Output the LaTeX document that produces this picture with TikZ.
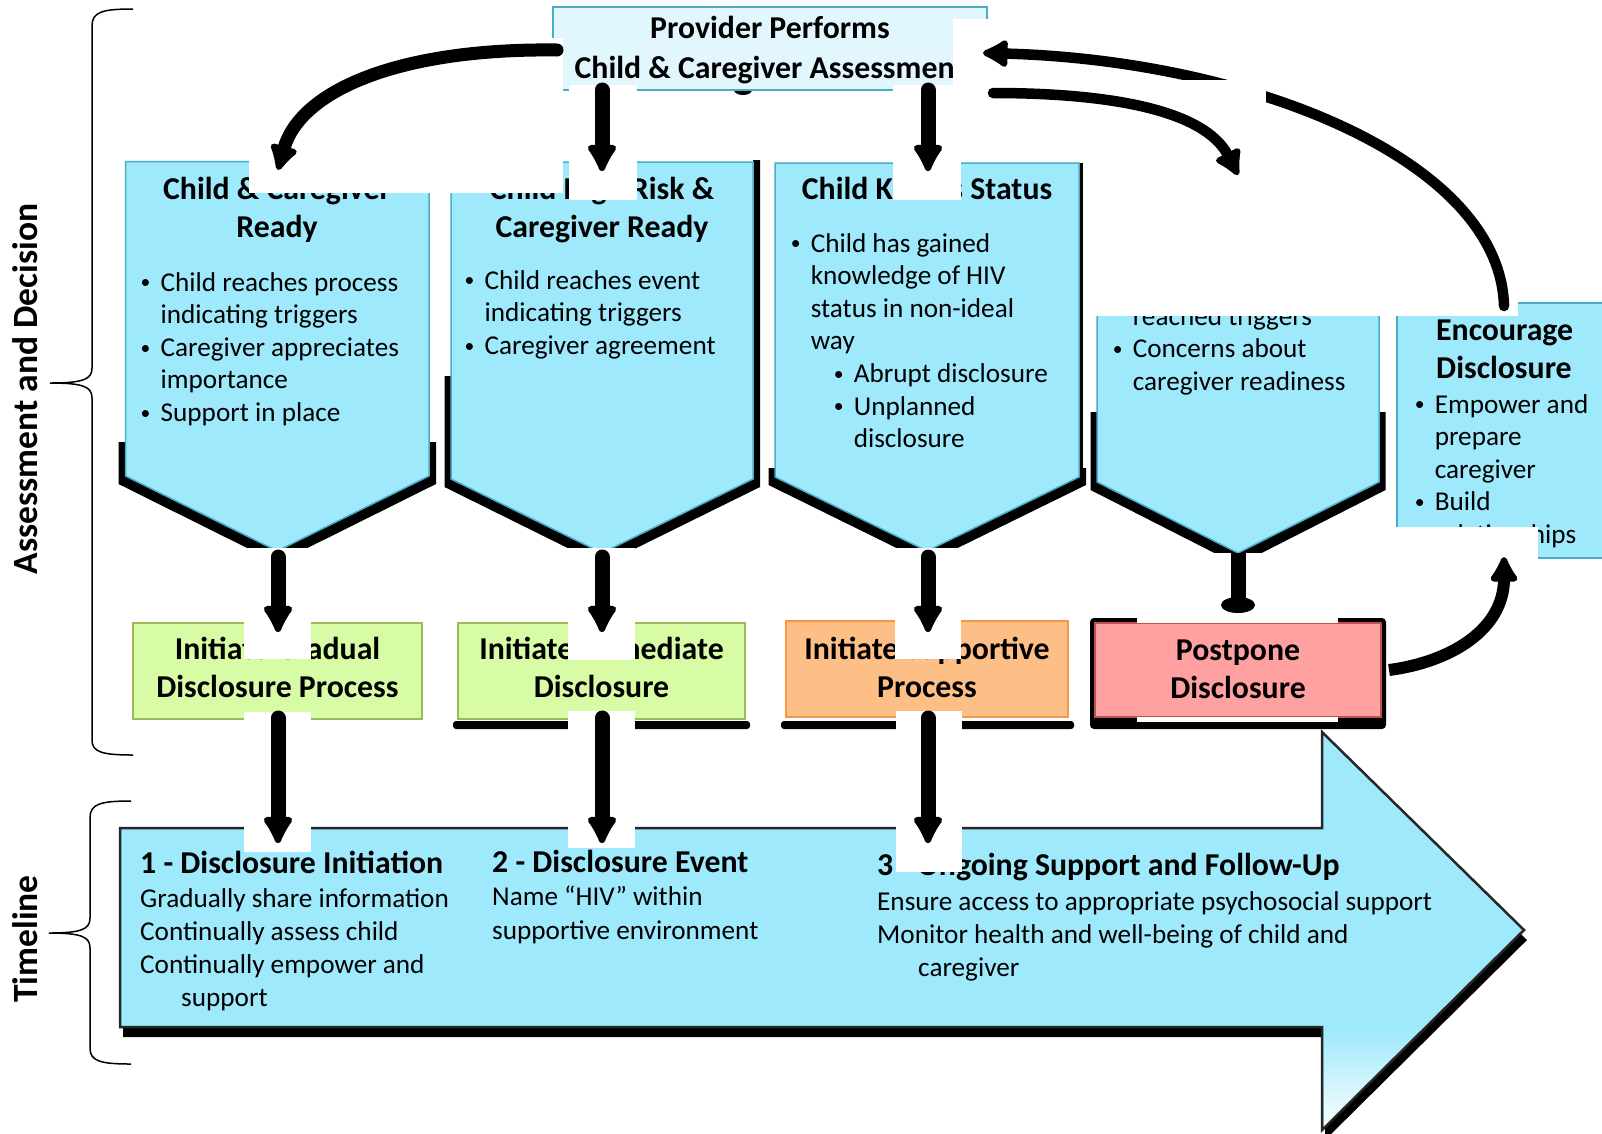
\documentclass[tikz,border=0pt]{standalone}
\usepackage{fontspec}
\usepackage{graphicx}
\setmainfont{Carlito}
\usetikzlibrary{arrows.meta}
\definecolor{cy}{HTML}{9FE9FC}
\definecolor{tealline}{HTML}{4BACC6}
\definecolor{provfill}{HTML}{E2F7FD}
\definecolor{gfill}{HTML}{D8FBA6}
\definecolor{gline}{HTML}{9BBB59}
\definecolor{ofill}{HTML}{FEBF87}
\definecolor{oline}{HTML}{F79646}
\definecolor{rfill}{HTML}{FFA1A1}
\definecolor{rline}{HTML}{C0504D}
\newcommand\ctab[1]{\begin{tabular}[t]{@{}c@{}}#1\end{tabular}}
\newcommand\ltab[1]{\begin{tabular}[t]{@{}l@{}}#1\end{tabular}}
\newcommand\bul{\makebox[22pt][l]{\hspace{2pt}\raisebox{0.08em}{\scalebox{0.72}{•}}}}
\newcommand\myind{\hspace*{22pt}}
\tikzset{
  patch/.style={fill=white, draw=none},
  arr/.style={line width=15pt, line cap=round, -{Latex[length=32pt,width=36pt,round]}},
  carr/.style={line width=11pt, line cap=round, -{Latex[length=30pt,width=34pt,round]}},
  reg/.style={font=\fontsize{27.2}{32.6}\selectfont, inner sep=0pt, anchor=base west},
  ttl/.style={font=\fontsize{31.8}{38.5}\selectfont\bfseries, inner sep=0pt, anchor=base},
  lab/.style={font=\fontsize{35.5}{40}\selectfont\bfseries, inner sep=0pt, anchor=base, rotate=90},
  chev/.style={fill=cy, draw=tealline, line width=1.5pt},
  brk/.style={line width=1.5pt},
}
\begin{document}
\begin{tikzpicture}[x=1pt,y=-1pt]
\useasboundingbox (0,0) rectangle (1602,1133);
\clip (0,0) rectangle (1602,1133);
% brackets and labels
\draw[brk] (133,9) .. controls (102,9) and (92,12) .. (92,26) -- (92,368)
  .. controls (92,379) and (84,383) .. (50,383) .. controls (84,383) and (92,387) .. (92,398)
  -- (92,740) .. controls (92,752) and (102,755) .. (133,755);
\draw[brk] (131,801) .. controls (100,801) and (90,804) .. (90,818) -- (90,918)
  .. controls (90,929) and (82,933) .. (49,933) .. controls (82,933) and (90,937) .. (90,948)
  -- (90,1048) .. controls (90,1061) and (100,1064) .. (131,1064);
\node[lab] (labA) at (37,389) {Assessment and Decision};
\node[lab] (labT) at (37,939) {Timeline};
% provider box
\fill (743,90) ellipse (9 and 5);
\filldraw[fill=provfill, draw=tealline, line width=1.5pt] (553,7) rectangle (987,90);
\node[ttl, font=\fontsize{31.8}{40}\selectfont\bfseries] (prov) at (770,38) {\ctab{Provider Performs\\Child \& Caregiver Assessment}};
% box 1
\fill (118.5,442) -- (118.5,484) -- (277.25,563) -- (436,484) -- (436,442) -- (429,442) -- (429,476) -- (125.5,476) -- (125.5,442) -- cycle;
\filldraw[chev] (125.5,161.5) -- (429,161.5) -- (429,476) -- (277.25,551) -- (125.5,476) -- cycle;
\node[ttl] (t1) at (277,199) {\ctab{Child \& Caregiver\\Ready}};
\node[reg] (l1) at (138.5,291) {\ltab{\bul Child reaches process\\ \myind indicating triggers\\ \bul Caregiver appreciates\\ \myind importance\\ \bul Support in place}};
% box 2
\fill (444.5,376) -- (444.5,487) -- (602,565) -- (760,487) -- (760,160) -- (753,160) -- (753,479) -- (451,479) -- (451,376) -- cycle;
\filldraw[chev] (451,162) -- (753,162) -- (753,479) -- (602,553) -- (451,479) -- cycle;
\node[ttl] (t2) at (602,199) {\ctab{Child High Risk \&\\Caregiver Ready}};
\node[reg] (l2) at (462.5,289) {\ltab{\bul Child reaches event\\ \myind indicating triggers\\ \bul Caregiver agreement}};
% box 4
\fill (1090.5,412) -- (1090.5,490) -- (1238,565) -- (1385.5,490) -- (1385.5,412) -- (1379,412) -- (1379,482) -- (1097,482) -- (1097,412) -- cycle;
\filldraw[chev] (1097,300) -- (1379,300) -- (1379,482) -- (1238,553) -- (1097,482) -- cycle;
\node[reg] (l4) at (1110.6,325) {\ltab{\myind reached triggers\\ \bul Concerns about\\ \myind caregiver readiness}};
% box 5 (encourage)
\filldraw[chev] (1397,303) rectangle (1615,558);
\node[ttl, anchor=base west] (t5) at (1436,340) {\ltab{Encourage\\Disclosure}};
\node[reg] (l5) at (1412.6,413) {\ltab{\bul Empower and\\ \myind prepare\\ \myind caregiver\\ \bul Build\\ \myind relationships}};
% left curved arrow
\fill[patch] (248.5,38) rectangle (563,193.3);
\coordinate (pl) at (557,50);
\coordinate (b1top) at (278,170);
\draw[carr, line width=13pt] (pl) .. controls (400,48) and (300,90) .. (b1top);
% A1
\fill[patch] (569,85) rectangle (637,200);
\coordinate (pa1) at (602,90);
\coordinate (b2top) at (602,171);
\draw[arr] (pa1) -- (b2top);
% big arrow encourage -> provider
\fill[patch] (953,19) rectangle (1518,316);
\coordinate (e5top) at (1504,306);
\coordinate (pr) at (983,53);
\draw[carr, line width=10.5pt] (e5top) .. controls (1500,160) and (1250,60) .. (pr);
% lower right arrow
\fill[patch] (965,80) rectangle (1266,190);
\coordinate (pr2) at (993,93);
\coordinate (b4top) at (1238,175);
\draw[carr, line width=10.5pt] (pr2) .. controls (1110,93) and (1205,110) .. (b4top);
% box 3
\fill (768.5,468) -- (768.5,485) -- (927,563) -- (1086,485) -- (1086,468) -- (1079,468) -- (1079,477) -- (775,477) -- (775,468) -- cycle;
\fill (1079,163) rectangle (1083,470);
\filldraw[chev] (775,163) -- (1079,163) -- (1079,477) -- (927,551) -- (775,477) -- cycle;
\node[ttl] (t3) at (927,199) {\ctab{Child Knows Status}};
\node[reg] (l3) at (788.6,252) {\ltab{\bul Child has gained\\ \myind knowledge of HIV\\ \myind status in non-ideal\\ \myind way\\ \hspace*{43pt}\bul Abrupt disclosure\\ \hspace*{43pt}\bul Unplanned\\ \hspace*{65pt}disclosure}};
% A2
\fill[patch] (893,85) rectangle (961,200);
\coordinate (pa2) at (928,90);
\coordinate (b3top) at (928,171);
\draw[arr] (pa2) -- (b3top);
% decision boxes
\filldraw[fill=gfill, draw=gline, line width=2pt] (133,623) rectangle (422,719);
\node[ttl] (d1) at (277.5,659) {\ctab{Initiate Gradual\\Disclosure Process}};
\fill[rounded corners=3pt] (453,721) rectangle (750,729);
\filldraw[fill=gfill, draw=gline, line width=2pt] (458,623) rectangle (745,719);
\node[ttl] (d2) at (601.5,659) {\ctab{Initiate Immediate\\Disclosure}};
\fill[rounded corners=3pt] (781,721) rectangle (1074,729);
\filldraw[fill=ofill, draw=oline, line width=2pt] (786,621) rectangle (1068,717);
\node[ttl] (d3) at (927,659) {\ctab{Initiate Supportive\\Process}};
\fill[rounded corners=4pt] (1090,618) rectangle (1386,729);
\filldraw[fill=rfill, draw=rline, line width=2.5pt] (1095,623) rectangle (1381,717);
\node[ttl] (d4) at (1238,660) {\ctab{Postpone\\Disclosure}};
% B arrows
\fill[patch] (244,548) rectangle (311,659);
\fill[patch] (568,548) rectangle (635,660);
\fill[patch] (895,548) rectangle (961,659);
\fill[patch] (1137,553) rectangle (1338,623);
\coordinate (b1bot) at (278,557); \coordinate (d1top) at (278,632);
\coordinate (b2bot) at (602,557); \coordinate (d2top) at (602,632);
\coordinate (b3bot) at (928,557); \coordinate (d3top) at (928,632);
\draw[arr] (b1bot) -- (d1top);
\draw[arr] (b2bot) -- (d2top);
\draw[arr] (b3bot) -- (d3top);
\coordinate (b4bot) at (1238,553); \coordinate (d4stub) at (1238,603);
\draw[line width=15pt] (b4bot) -- (d4stub);
\fill (1238,605) ellipse (17 and 8);
% timeline arrow
\fill (123,838) -- (1325,838) -- (1325,742) -- (1527,940) -- (1325,1140) -- (1325,1037) -- (123,1037) -- cycle;
\filldraw[fill=cy, draw=black!85, line width=2.5pt] (120,828) -- (1322,828) -- (1322,732) -- (1524,930) -- (1322,1130) -- (1322,1027) -- (120,1027) -- cycle;
\shade[top color=cy, bottom color=white!92!cy] (1324,1029) -- (1421,1029) -- (1324,1126) -- cycle;
\node[ttl, anchor=base west] (h1) at (140,873) {1 - Disclosure Initiation};
\node[reg, font=\fontsize{27.2}{33.3}\selectfont] (x1) at (140,907) {\ltab{Gradually share information\\Continually assess child\\Continually empower and\\ \hspace*{41pt}support}};
\node[ttl, anchor=base west] (h2) at (492,872) {2 - Disclosure Event};
\node[reg, font=\fontsize{27.2}{34}\selectfont] (x2) at (492,905) {\ltab{Name “HIV” within\\supportive environment}};
\node[ttl, anchor=base west] (h3) at (877,875) {3 - Ongoing Support and Follow-Up};
\node[reg, font=\fontsize{27.2}{33}\selectfont] (x3) at (877,910) {\ltab{Ensure access to appropriate psychosocial support\\Monitor health and well-being of child and\\ \hspace*{41pt}caregiver}};
% C arrows
\fill[patch] (244,712) rectangle (311,852);
\fill[patch] (568,711) rectangle (635,848);
\fill[patch] (896,711) rectangle (962,872);
\fill[patch] (1137,717) rectangle (1338,722);
\coordinate (d1bot) at (278,718); \coordinate (tl1) at (278,843);
\coordinate (d2bot) at (602,718); \coordinate (tl2) at (602,843);
\coordinate (d3bot) at (928,718); \coordinate (tl3) at (928,843);
\draw[arr] (d1bot) -- (tl1);
\draw[arr] (d2bot) -- (tl2);
\draw[arr] (d3bot) -- (tl3);
% postpone -> encourage
\fill[patch] (1390,527) rectangle (1538,700);
\coordinate (d4right) at (1389,670);
\coordinate (e5bot) at (1504,557);
\draw[carr, line width=12pt, line cap=butt] (d4right) .. controls (1450,662) and (1504,630) .. (e5bot);
\end{tikzpicture}
\end{document}
